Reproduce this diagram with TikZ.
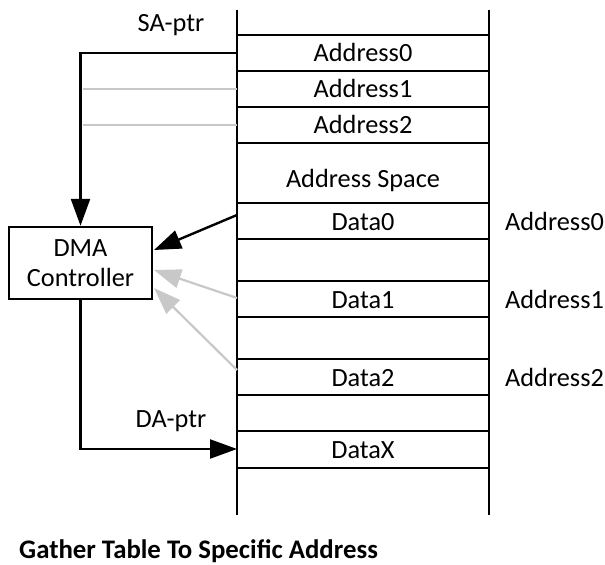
\documentclass[tikz,border=0pt]{standalone}
\usepackage{fontspec}
\setmainfont{Carlito}
\usetikzlibrary{arrows.meta}
\begin{document}
\begin{tikzpicture}[x=1bp,y=-1bp,
  every node/.style={inner sep=0pt,font=\fontsize{26.3bp}{31bp}\selectfont},
  lbl/.style={anchor=base},
  wire/.style={line width=2.4bp,black},
  faint/.style={line width=2.2bp,draw={rgb,255:red,200;green,200;blue,200}},
  bigtip/.style={-{Triangle[length=27bp,width=19bp]}},
  boxst/.style={draw,line width=2.4bp,minimum width=143bp,minimum height=72bp,align=center}
]
\useasboundingbox (0,0) rectangle (605,565);
% table
\draw[wire] (237,10) -- (237,515);
\draw[wire] (489,10) -- (489,515);
\foreach \yy in {35,71,107,143,203,239,281,317,359,395,431,468}
  \draw[wire] (237,\yy) -- (489,\yy);
% texts in table
\node[lbl] (a0) at (363,62) {Address0};
\node[lbl] (a1) at (363,98) {Address1};
\node[lbl] (a2) at (363,134) {Address2};
\node[lbl] (as) at (363,187) {Address Space};
\node[lbl] (d0) at (363,230) {Data0};
\node[lbl] (d1) at (363,308) {Data1};
\node[lbl] (d2) at (363,386) {Data2};
\node[lbl] (dx) at (363,458) {DataX};
\node[anchor=base west] (r0) at (505,230) {Address0};
\node[anchor=base west] (r1) at (505,308) {Address1};
\node[anchor=base west] (r2) at (505,386) {Address2};
\node[lbl] (sap) at (171,32) {SA-ptr};
\node[lbl] (dap) at (171,427) {DA-ptr};
% DMA box
\node[boxst] (dma) at (80.5,263) {DMA\\[-1bp]Controller};
% coordinates
\coordinate (sa) at (237,53);
\coordinate (g1s) at (237,89);
\coordinate (g1e) at (83,89);
\coordinate (g2s) at (237,125);
\coordinate (g2e) at (83,125);
\coordinate (da) at (237,449);
\coordinate (s0) at (237,215);
\coordinate (t0) at (154,250);
\coordinate (s1) at (237,298);
\coordinate (t1) at (154,270);
\coordinate (s2) at (237,370);
\coordinate (t2) at (154,288);
% connectors
\draw[faint] (g1s) -- (g1e);
\draw[faint] (g2s) -- (g2e);
\draw[wire,bigtip] (sa) -| (dma.north);
\draw[wire,bigtip] (dma.south) |- (da);
\draw[wire,bigtip] (s0) -- (t0);
\draw[faint,-{Triangle[length=27bp,width=19bp]},fill={rgb,255:red,200;green,200;blue,200}] (s1) -- (t1);
\draw[faint,-{Triangle[length=27bp,width=19bp]},fill={rgb,255:red,200;green,200;blue,200}] (s2) -- (t2);
% title
\node[anchor=base west,font=\fontsize{26.8bp}{31bp}\selectfont\bfseries] (title) at (19,558) {Gather Table To Specific Address};
\end{tikzpicture}
\end{document}
